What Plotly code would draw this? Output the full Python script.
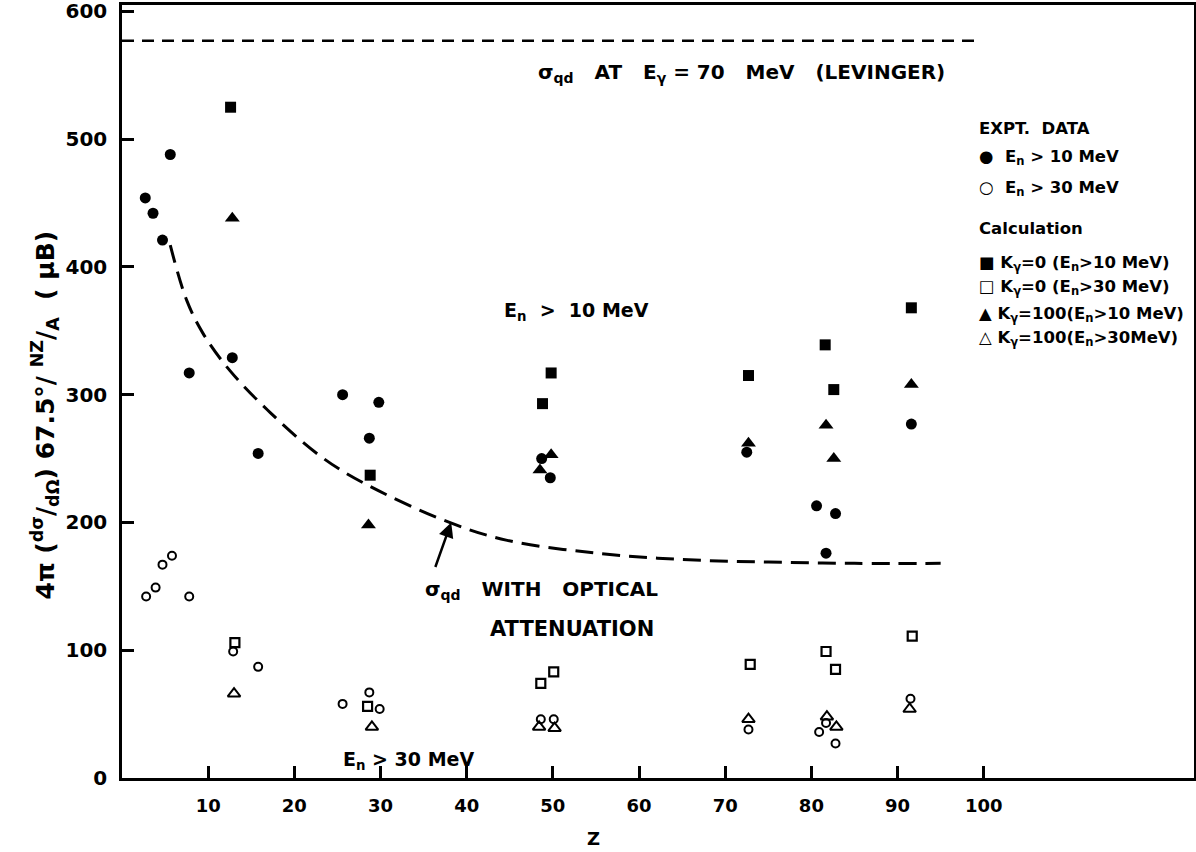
import plotly.graph_objects as go

# ---- data ----
z_exp10 = [2.7, 3.6, 4.7, 5.6, 7.8, 12.8, 15.8, 25.6, 28.7, 29.8, 48.7, 49.7, 72.5, 80.6, 81.7, 82.8, 91.6]
v_exp10 = [454, 442, 421, 488, 317, 329, 254, 300, 266, 294, 250, 235, 255, 213, 176, 207, 277]

z_exp30 = [2.8, 3.9, 4.7, 5.8, 7.8, 12.9, 15.8, 25.6, 28.7, 29.9, 48.6, 50.1, 72.7, 80.9, 81.7, 82.8, 91.5]
v_exp30 = [142, 149, 167, 174, 142, 99, 87, 58, 67, 54, 46, 46, 38, 36, 43, 27, 62]

z_k0_10 = [12.6, 28.8, 48.8, 49.8, 72.7, 81.6, 82.6, 91.6]
v_k0_10 = [525, 237, 293, 317, 315, 339, 304, 368]

z_k0_30 = [13.1, 28.5, 48.6, 50.1, 72.9, 81.7, 82.8, 91.7]
v_k0_30 = [106, 56, 74, 83, 89, 99, 85, 111]

z_k100_10 = [12.8, 28.6, 48.5, 49.8, 72.7, 81.7, 82.6, 91.6]
v_k100_10 = [438, 198, 241, 253, 262, 276, 250, 308]

z_k100_30 = [13.0, 29.0, 48.4, 50.2, 72.7, 81.8, 82.9, 91.4]
v_k100_30 = [66, 40, 40, 39, 46, 48, 40, 54]

# sigma_qd with optical attenuation (dashed curve)
z_curve = [5.6, 7.5, 9.4, 12.5, 17.2, 23, 28, 38, 44.7, 55, 65, 75, 85, 95]
v_curve = [417, 374, 348, 319, 286, 252, 231, 200, 186, 176, 171, 169, 168, 168]

# Levinger level
z_lev = [0, 99.3]
v_lev = [577, 577]

x_ticks = [10, 20, 30, 40, 50, 60, 70, 80, 90, 100]
y_ticks = [0, 100, 200, 300, 400, 500, 600]

FONT = "DejaVu Sans"
fig = go.Figure()

fig.add_trace(go.Scatter(x=z_lev, y=v_lev, mode="lines",
                         line=dict(color="black", width=2.5, dash="12px,8px")))
fig.add_trace(go.Scatter(x=z_curve, y=v_curve, mode="lines",
                         line=dict(color="black", width=3, dash="18px,9px", shape="spline", smoothing=1.0)))

def pts(x, y, symbol, size, lw=0):
    fig.add_trace(go.Scatter(x=x, y=y, mode="markers",
                             marker=dict(symbol=symbol, size=size, color="black",
                                         line=dict(color="black", width=lw))))

pts(z_exp10, v_exp10, "circle", 11)
pts(z_exp30, v_exp30, "circle-open", 8, 2)
pts(z_k0_10, v_k0_10, "square", 11)
pts(z_k0_30, v_k0_30, "square-open", 9, 2.2)
pts(z_k100_10, v_k100_10, "triangle-up", 13)
pts(z_k100_30, v_k100_30, "triangle-up-open", 11, 2)

ann = []
def txt(x, y, t, size=17, xanchor="center", **kw):
    ann.append(dict(x=x, y=y, xref="x", yref="y", text=t, showarrow=False,
                    xanchor=xanchor, yanchor="middle",
                    font=dict(family=FONT, size=size, color="black", weight="bold"), **kw))

txt(71.9, 552, "σ<sub>qd</sub>   AT   E<sub>γ</sub> = 70   MeV   (LEVINGER)", size=20)
txt(52.7, 365, "E<sub>n</sub>  >  10 MeV", size=19)
txt(33.2, 14, "E<sub>n</sub> > 30 MeV", size=19)
txt(34.9, 147, "σ<sub>qd</sub>   WITH   OPTICAL", xanchor="left", size=20)
txt(42.5, 117, "ATTENUATION", xanchor="left", size=21)

lx = 99.2
LS = 16.5
txt(lx, 508, "EXPT.  DATA", xanchor="left", size=LS)
txt(lx, 486, "●  E<sub>n</sub> > 10 MeV", xanchor="left", size=LS)
txt(lx, 461, "○  E<sub>n</sub> > 30 MeV", xanchor="left", size=LS)
txt(lx, 430, "Calculation", xanchor="left", size=LS)
txt(lx, 403, "■ K<sub>γ</sub>=0 (E<sub>n</sub>>10 MeV)", xanchor="left", size=LS)
txt(lx, 384, "□ K<sub>γ</sub>=0 (E<sub>n</sub>>30 MeV)", xanchor="left", size=LS)
txt(lx, 363, "▲ K<sub>γ</sub>=100(E<sub>n</sub>>10 MeV)", xanchor="left", size=LS)
txt(lx, 344, "△ K<sub>γ</sub>=100(E<sub>n</sub>>30MeV)", xanchor="left", size=LS)

# arrow
ann.append(dict(x=38.2, y=200, ax=36.3, ay=164, xref="x", yref="y", axref="x", ayref="y",
                text="", showarrow=True, arrowhead=2, arrowsize=1.2, arrowwidth=2.5,
                arrowcolor="black"))

# axis titles
ann.append(dict(x=-0.072, y=0.47, xref="paper", yref="paper", textangle=-90,
                text="4π (<sup>dσ</sup>/<sub>dΩ</sub>) 67.5°/ <sup>NZ</sup>/<sub>A</sub>  ( μB)",
                showarrow=False, xanchor="center", yanchor="middle",
                font=dict(family=FONT, size=25, color="black", weight="bold")))
ann.append(dict(x=0.4394, y=-0.078, xref="paper", yref="paper", text="Z",
                showarrow=False, xanchor="center", yanchor="middle",
                font=dict(family=FONT, size=18, color="black", weight="bold")))

fig.update_layout(
    width=1196, height=852,
    margin=dict(l=122, r=2, t=5, b=74, autoexpand=False),
    paper_bgcolor="white", plot_bgcolor="white",
    showlegend=False,
    annotations=ann,
    font=dict(family=FONT, color="black"),
)
fig.update_xaxes(range=[0, 124.4], tickvals=x_ticks, ticktext=[str(t) for t in x_ticks],
                 ticks="inside", ticklen=12, tickwidth=2.5, tickcolor="black",
                 showline=True, linewidth=2.5, linecolor="black", mirror=True,
                 showgrid=False, zeroline=False, ticklabelstandoff=10, automargin=False,
                 ticklabeloverflow="allow",
                 tickfont=dict(family=FONT, size=18, color="black", weight="bold"))
fig.update_yaxes(range=[0, 605], tickvals=y_ticks, ticktext=[str(t) for t in y_ticks],
                 ticks="inside", ticklen=12, tickwidth=2.5, tickcolor="black",
                 showline=True, linewidth=2.5, linecolor="black", mirror=True,
                 showgrid=False, zeroline=False, ticklabelstandoff=8, automargin=False,
                 ticklabeloverflow="allow",
                 tickfont=dict(family=FONT, size=20, color="black", weight="bold"))

fig.write_html("out.html", config={"displayModeBar": False},
               post_script="document.body.style.margin='0';document.body.style.padding='0';")
